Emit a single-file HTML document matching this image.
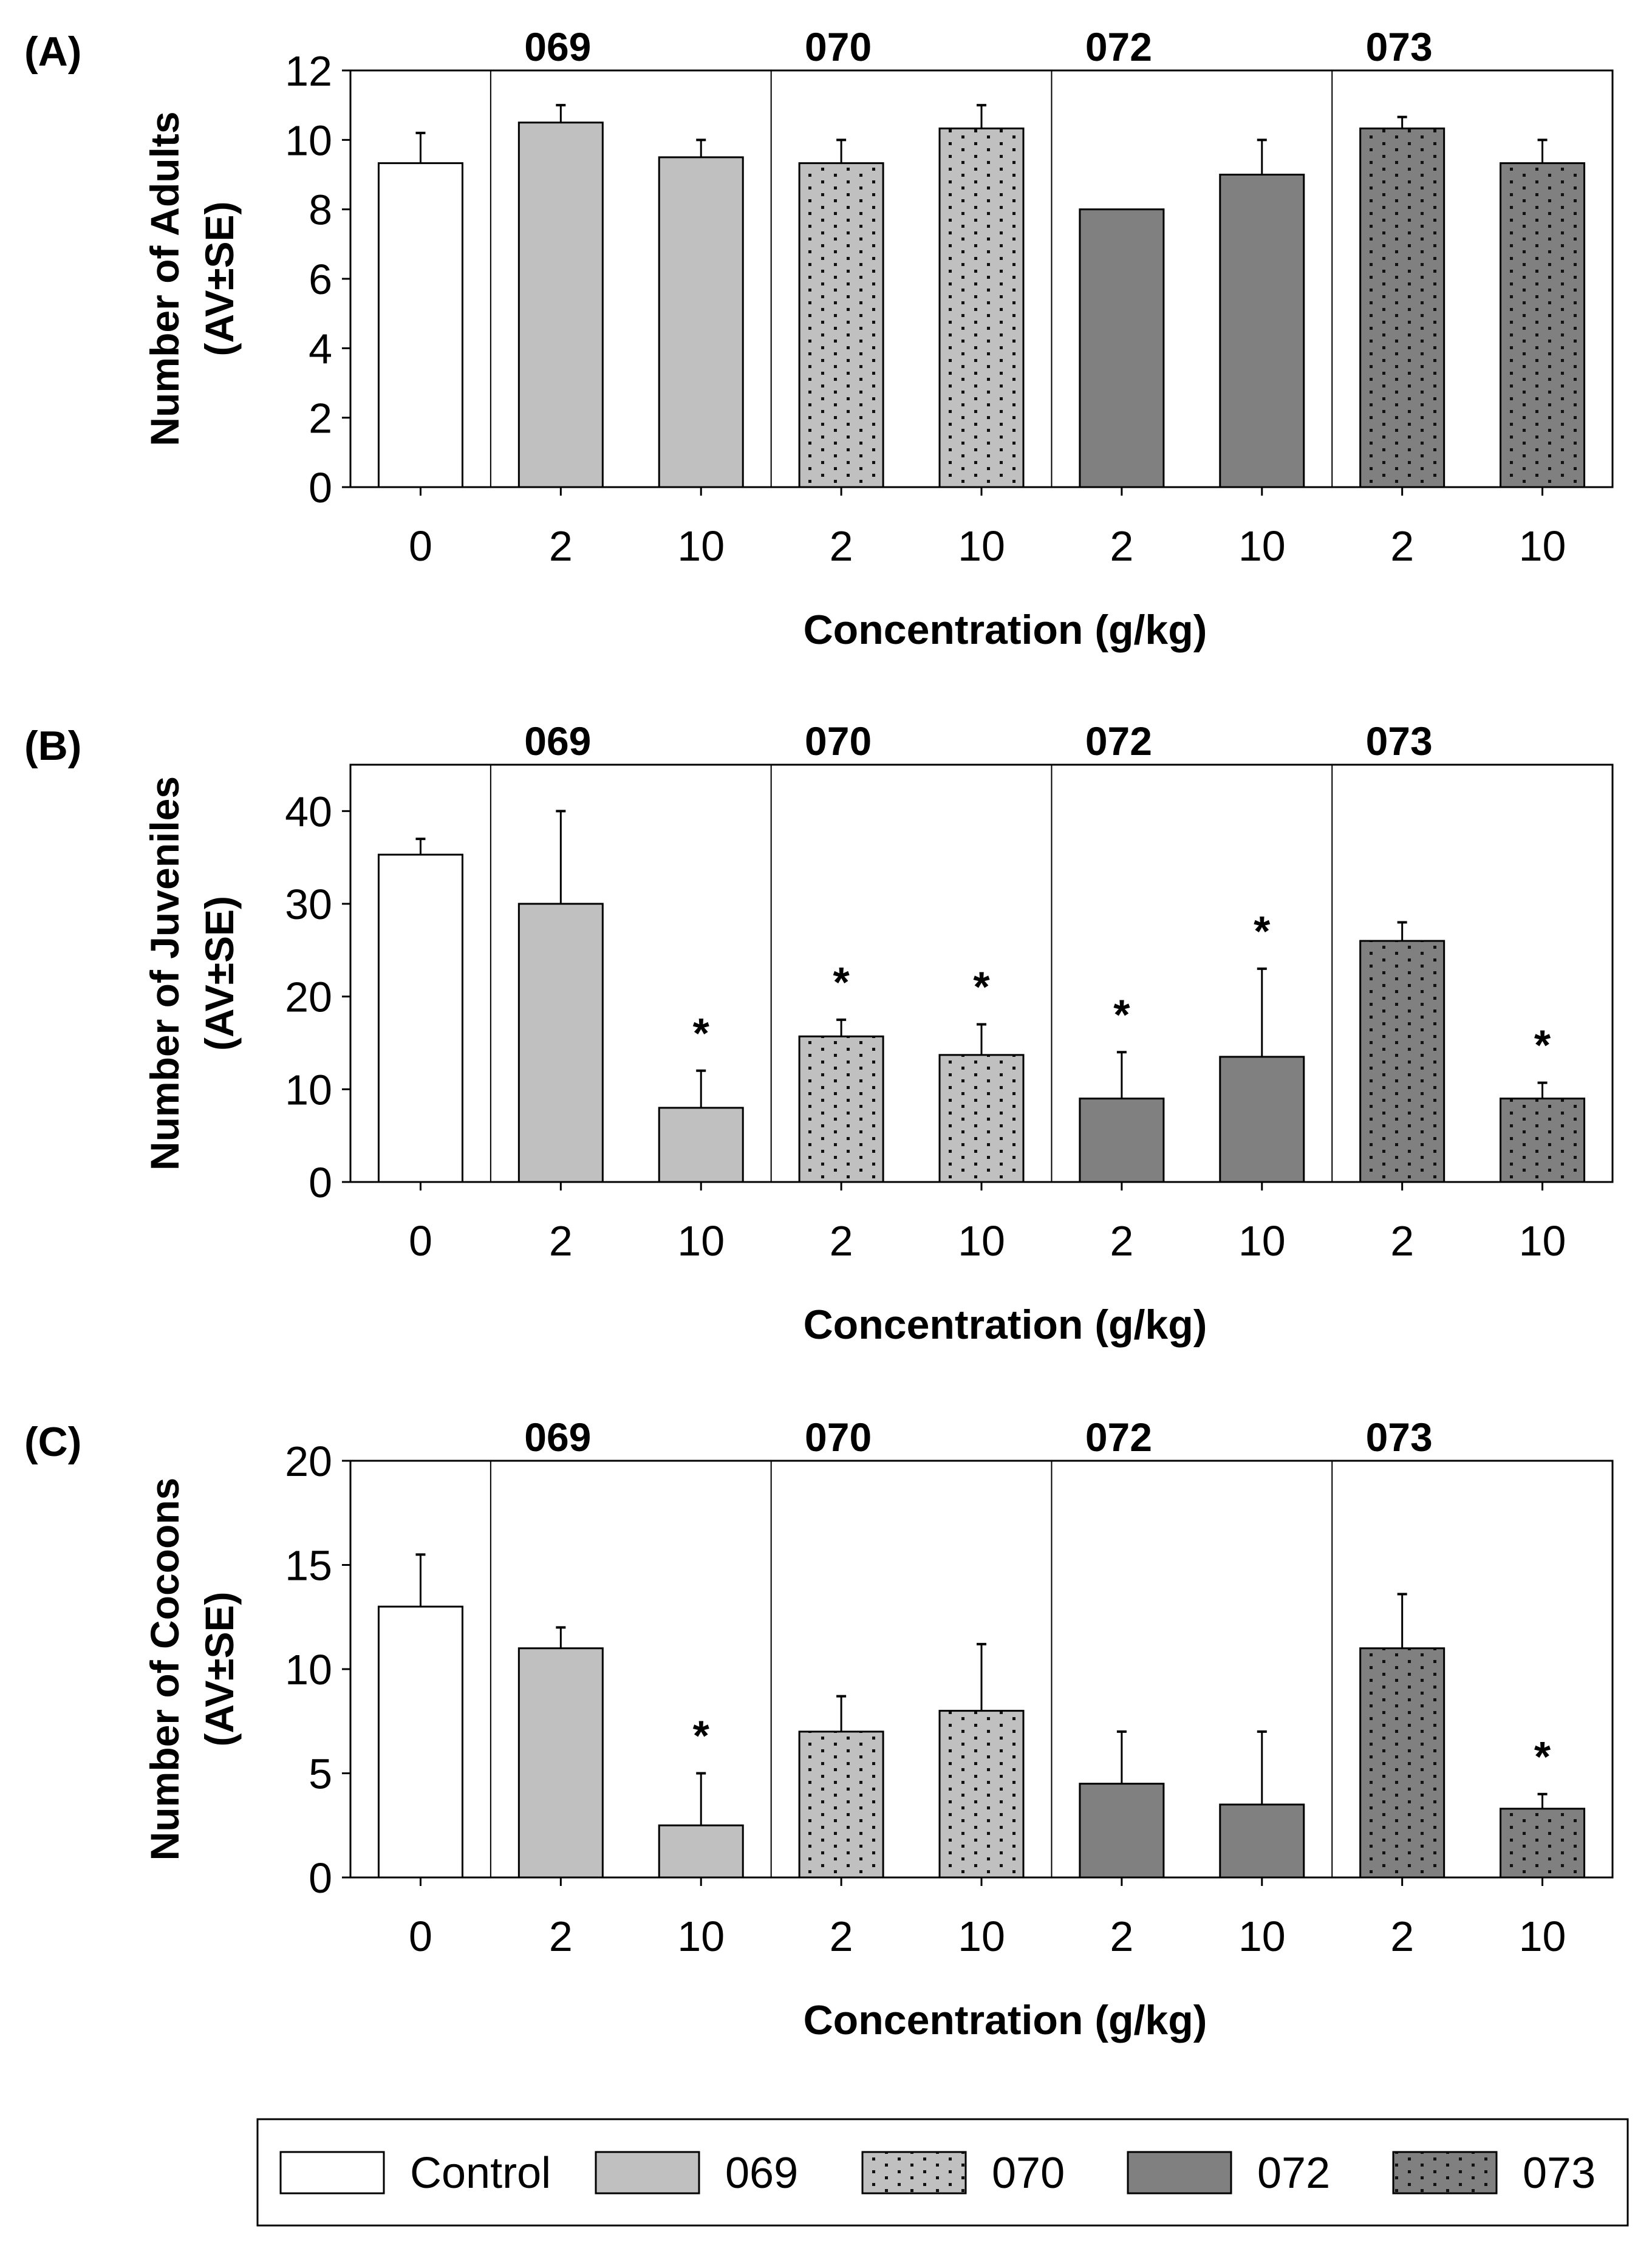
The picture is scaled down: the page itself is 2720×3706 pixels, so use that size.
<!DOCTYPE html>
<html><head><meta charset="utf-8">
<style>
html,body{margin:0;padding:0;background:#fff;}
svg{display:block;font-family:"Liberation Sans",Arial,sans-serif;}
</style></head>
<body>
<svg id="fig" width="2720" height="3706" viewBox="0 0 2720 3706" xmlns="http://www.w3.org/2000/svg">
<defs>
<pattern id="dotsL" width="42" height="21" patternUnits="userSpaceOnUse">
<rect width="42" height="21" fill="#c0c0c0"/>
<rect x="8" y="3" width="5" height="5" fill="#111"/>
<rect x="29" y="13" width="5" height="5" fill="#111"/>
</pattern>
<pattern id="dotsD" width="42" height="21" patternUnits="userSpaceOnUse">
<rect width="42" height="21" fill="#808080"/>
<rect x="8" y="3" width="5" height="5" fill="#111"/>
<rect x="29" y="13" width="5" height="5" fill="#111"/>
</pattern>
</defs>
<g id="panels"></g>
<g id="legend">
<rect x="424" y="3489" width="2256" height="175" fill="#fff" stroke="#000" stroke-width="3"/>
</g>
</svg>
<script>
const categories = ["0","2","10","2","10","2","10","2","10"];
const groupNames = ["069","070","072","073"];
const seriesOfBar = ["Control","069","069","070","070","072","072","073","073"];
const adultsMean = [9.33,10.5,9.5,9.33,10.33,8,9,10.33,9.33];
const adultsErr  = [0.87,0.5,0.5,0.67,0.67,0,1,0.33,0.67];
const juvMean = [35.3,30,8,15.7,13.7,9,13.5,26,9];
const juvErr  = [1.7,10,4,1.8,3.3,5,9.5,2,1.7];
const juvStar = [0,0,1,1,1,1,1,0,1];
const cocMean = [13,11,2.5,7,8,4.5,3.5,11,3.3];
const cocErr  = [2.5,1,2.5,1.7,3.2,2.5,3.5,2.6,0.7];
const cocStar = [0,0,1,0,0,0,0,0,1];
const adultsTicks = [0,2,4,6,8,10,12];
const juvTicks = [0,10,20,30,40];
const cocTicks = [0,5,10,15,20];
const legendNames = ["Control","069","070","072","073"];

const NS="http://www.w3.org/2000/svg";
const fills={"Control":"#ffffff","069":"#c0c0c0","070":"url(#dotsL)","072":"#808080","073":"url(#dotsD)"};
function mk(tag,attrs,parent,text){const e=document.createElementNS(NS,tag);for(const k in attrs)e.setAttribute(k,attrs[k]);if(text!==undefined)e.textContent=text;parent.appendChild(e);return e;}

const L=577,R=2655,catW=(R-L)/9,barW=138;
const panels=[
 {lab:"(A)",title:"Number of Adults",key:"adults",top:116,bot:802,max:12,mean:adultsMean,err:adultsErr,star:null,ticks:adultsTicks},
 {lab:"(B)",title:"Number of Juveniles",key:"juveniles",top:1259,bot:1946,max:45,mean:juvMean,err:juvErr,star:juvStar,ticks:juvTicks},
 {lab:"(C)",title:"Number of Cocoons",key:"cocoons",top:2405,bot:3091,max:20,mean:cocMean,err:cocErr,star:cocStar,ticks:cocTicks}
];
const root=document.getElementById('panels');
panels.forEach(p=>{
 const g=mk('g',{},root);
 
 
 const y=v=>p.bot-(v/p.max)*(p.bot-p.top);
 const xc=i=>L+catW*(i+0.5);
 const t=mk('text',{x:40,y:p.top-8,'font-size':68,'font-weight':'bold'},g,p.lab);
 
 
 const fr=mk('rect',{x:L,y:p.top,width:R-L,height:p.bot-p.top,fill:'none',stroke:'#000','stroke-width':3},g);
 
 
 for(let k=0;k<4;k++){
  const dx=L+catW*(1+2*k);
  const dl=mk('line',{x1:dx,x2:dx,y1:p.top,y2:p.bot,stroke:'#000','stroke-width':2},g);
  
  
  const gl=mk('text',{x:xc(2*k+1)-5,y:p.top-16,'font-size':66,'font-weight':'bold','text-anchor':'middle'},g,groupNames[k]);
  
  
 }
 p.ticks.forEach(v=>{
  const tk=mk('line',{x1:L-14,x2:L,y1:y(v),y2:y(v),stroke:'#000','stroke-width':3},g);
  
  
  const tl=mk('text',{x:L-30,y:y(v)+25,'font-size':70,'text-anchor':'end'},g,String(v));
  
  
 });
 p.mean.forEach((m,i)=>{
  const cx=xc(i);
  const b=mk('rect',{x:cx-barW/2,y:y(m),width:barW,height:p.bot-y(m),fill:fills[seriesOfBar[i]],stroke:'#000','stroke-width':3},g);
  
  
  if(p.err[i]>0){
   const e1=mk('line',{x1:cx,x2:cx,y1:y(m),y2:y(m+p.err[i]),stroke:'#000','stroke-width':3},g);
   
   
   const e2=mk('line',{x1:cx-8,x2:cx+8,y1:y(m+p.err[i]),y2:y(m+p.err[i]),stroke:'#000','stroke-width':4},g);
   
   
  }
  if(p.star&&p.star[i]){
   const s=mk('text',{x:cx,y:y(m+p.err[i])-38,'font-size':70,'font-weight':'bold','text-anchor':'middle'},g,'*');
   
   
  }
  const xt=mk('line',{x1:cx,x2:cx,y1:p.bot,y2:p.bot+14,stroke:'#000','stroke-width':3},g);
  
  
  const xl=mk('text',{x:cx,y:p.bot+121,'font-size':70,'text-anchor':'middle'},g,categories[i]);
  
  
 });
 const xa=mk('text',{x:1655,y:p.bot+258,'font-size':68,'font-weight':'bold','text-anchor':'middle'},g,'Concentration (g/kg)');
 
 
 const cy=(p.top+p.bot)/2;
 const ya=mk('text',{x:0,y:0,'font-size':66,'font-weight':'bold','text-anchor':'middle',transform:`translate(294,${cy}) rotate(-90)`},g,p.title);
 
 
 const yb=mk('text',{x:0,y:0,'font-size':66,'font-weight':'bold','text-anchor':'middle',transform:`translate(384,${cy}) rotate(-90)`},g,'(AV±SE)');
 
 
});
const lg=document.getElementById('legend');
const sw=[462,981,1420,1857,2294];
legendNames.forEach((n,k)=>{
 const r=mk('rect',{x:sw[k],y:3543,width:170,height:68,fill:fills[n],stroke:'#000','stroke-width':3},lg);
 
 
 const t=mk('text',{x:sw[k]+213,y:3602,'font-size':72},lg,n);
 
 
});
</script>
</body></html>
